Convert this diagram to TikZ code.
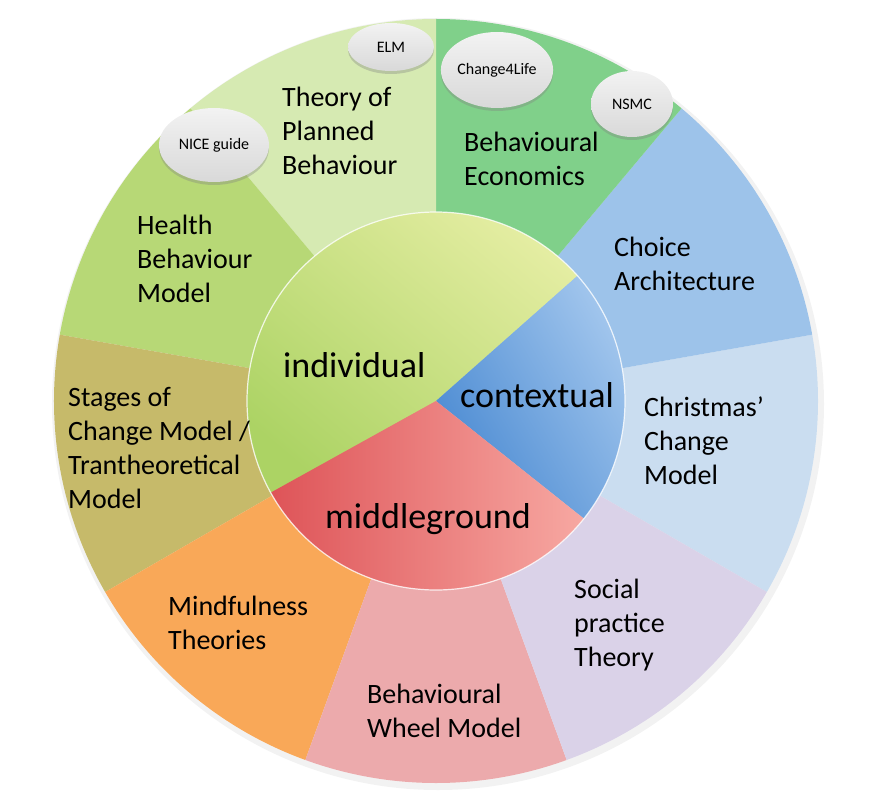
\documentclass[tikz,border=0pt]{standalone}
\usepackage{fontspec}
\setmainfont{Carlito}
\usetikzlibrary{shapes.geometric,shadows}
\definecolor{econgreen}{RGB}{128,208,138}
\definecolor{tpbgreen}{RGB}{214,234,178}
\definecolor{hbmgreen}{RGB}{183,216,118}
\definecolor{stagesolive}{RGB}{198,186,106}
\definecolor{mindorange}{RGB}{249,168,88}
\definecolor{wheelpink}{RGB}{236,170,172}
\definecolor{sociallav}{RGB}{218,210,232}
\definecolor{xmasblue}{RGB}{202,221,240}
\definecolor{choiceblue}{RGB}{157,195,234}
\definecolor{indivdark}{RGB}{172,211,100}
\definecolor{indivlight}{RGB}{228,237,162}
\definecolor{contextdark}{RGB}{74,138,210}
\definecolor{contextlight}{RGB}{165,200,238}
\definecolor{middark}{RGB}{222,84,88}
\definecolor{midlight}{RGB}{247,168,162}
\begin{document}
\begin{tikzpicture}[x=1pt, y=1pt,
    lbl/.style={anchor=north west, inner sep=0pt, align=left, font=\fontsize{28}{34}\selectfont},
    core/.style={anchor=north west, inner sep=0pt, font=\fontsize{36}{42}\selectfont},
    tag/.style={ellipse, inner sep=0pt, font=\fontsize{16}{19}\selectfont,
      top color=gray!10, bottom color=gray!30,
      drop shadow={opacity=0.35, shadow xshift=0pt, shadow yshift=-3pt}}
  ]
    \useasboundingbox (-436,-407) rectangle (446,401);
    \fill[black, opacity=0.05] (2,-3) circle[radius=386];
    \fill[xmasblue] (0,0) -- (-30:382) arc[start angle=-30, end angle=10, radius=382] -- cycle;
    \fill[choiceblue] (0,0) -- (10:382) arc[start angle=10, end angle=50, radius=382] -- cycle;
    \fill[econgreen] (0,0) -- (50:382) arc[start angle=50, end angle=90, radius=382] -- cycle;
    \fill[tpbgreen] (0,0) -- (90:382) arc[start angle=90, end angle=130, radius=382] -- cycle;
    \fill[hbmgreen] (0,0) -- (130:382) arc[start angle=130, end angle=170, radius=382] -- cycle;
    \fill[stagesolive] (0,0) -- (170:382) arc[start angle=170, end angle=210, radius=382] -- cycle;
    \fill[mindorange] (0,0) -- (210:382) arc[start angle=210, end angle=250, radius=382] -- cycle;
    \fill[wheelpink] (0,0) -- (250:382) arc[start angle=250, end angle=290, radius=382] -- cycle;
    \fill[sociallav] (0,0) -- (290:382) arc[start angle=290, end angle=330, radius=382] -- cycle;
    \shade[bottom color=indivdark, top color=indivlight, shading angle=-40]
      (0,0) -- (41.5:189) arc[start angle=41.5, end angle=209, radius=189] -- cycle;
    \shade[bottom color=contextdark, top color=contextlight, shading angle=-60]
      (0,0) -- (-38.5:189) arc[start angle=-38.5, end angle=41.5, radius=189] -- cycle;
    \shade[left color=middark, right color=midlight]
      (0,0) -- (209:189) arc[start angle=209, end angle=321.5, radius=189] -- cycle;
    \draw[white, opacity=0.8, line width=1.2pt] (0,0) circle[radius=189];
    \node[lbl] (tpb) at (-154,314) {Theory of\\Planned\\Behaviour};
    \node[lbl] (hbm) at (-299,186) {Health\\Behaviour\\Model};
    \node[lbl] (econ) at (28,269) {Behavioural\\Economics};
    \node[lbl] (choice) at (178,164) {Choice\\Architecture};
    \node[lbl] (xmas) at (208,4) {Christmas’\\Change\\Model};
    \node[lbl] (stages) at (-368,14) {Stages of\\Change Model /\\Trantheoretical\\Model};
    \node[lbl] (mind) at (-268,-195) {Mindfulness\\Theories};
    \node[lbl] (wheel) at (-69,-283) {Behavioural\\Wheel Model};
    \node[lbl] (social) at (138,-178) {Social\\practice\\Theory};
    \node[core] (indiv) at (-153,49) {individual};
    \node[core] (context) at (24,19) {contextual};
    \node[core] (middle) at (-111,-102) {middleground};
    \node[tag, minimum width=86, minimum height=48] (elm) at (-45,354) {ELM};
    \node[tag, minimum width=110, minimum height=74] (nice) at (-222,256) {NICE guide};
    \node[tag, minimum width=108, minimum height=76] (c4l) at (61,331) {Change4Life};
    \node[tag, minimum width=82, minimum height=66] (nsmc) at (196,297) {NSMC};
\end{tikzpicture}
\end{document}
